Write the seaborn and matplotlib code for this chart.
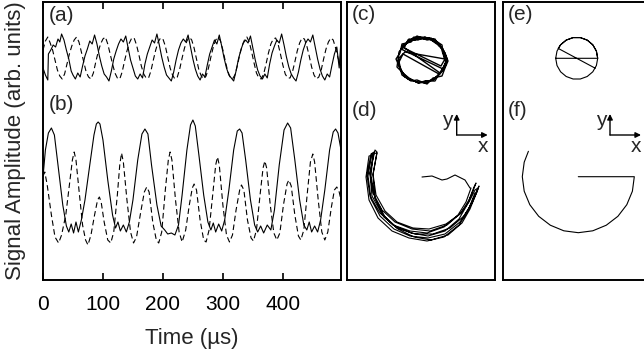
import numpy as np
import pandas as pd
import matplotlib
matplotlib.use("Agg")
import matplotlib.pyplot as plt
import seaborn as sns

sns.set_style("white")
plt.rcParams['font.family'] = ['Liberation Sans', 'DejaVu Sans']

# ---------------- data ----------------
# (b) solid signal: time (us), amplitude (arb.)
b_solid_t = [0, 4, 9, 14, 19, 26, 33, 39, 43, 47, 51, 55, 59, 64, 70, 78, 85, 89, 92, 95, 100, 108, 116, 121,
             125, 129, 134, 139, 144, 150, 158, 165, 170, 175, 181, 190, 197, 203, 208, 214, 220, 226, 232, 240,
             246, 250, 254, 260, 268, 275, 280, 284, 288, 293, 298, 303, 310, 318, 324, 328, 332, 338, 346, 353,
             358, 363, 368, 374, 380, 386, 394, 402, 408, 413, 420, 428, 435, 440, 444, 448, 453, 458, 463, 470,
             478, 484, 488, 492, 497]
b_solid_v = [103, 130, 147, 152, 145, 110, 75, 54, 48, 56, 47, 58, 48, 60, 80, 115, 145, 156, 158, 156, 140, 100,
             65, 52, 58, 49, 55, 48, 58, 80, 120, 146, 151, 146, 115, 75, 54, 50, 46, 47, 45, 55, 85, 130, 155, 160,
             154, 125, 85, 58, 50, 57, 48, 56, 49, 60, 90, 130, 149, 151, 147, 120, 80, 55, 48, 54, 47, 55, 50, 70,
             115, 150, 157, 152, 120, 80, 55, 50, 58, 48, 54, 48, 60, 90, 130, 148, 151, 147, 130]
# (b) dashed signal
b_dash_t = [0, 3, 7, 14, 20, 26, 31, 38, 44, 49, 52, 55, 60, 66, 71, 75, 80, 86, 91, 94, 97, 102, 108, 113, 118,
            124, 128, 131, 134, 140, 146, 151, 156, 163, 169, 173, 177, 183, 189, 193, 198, 204, 209, 212, 215, 221,
            227, 232, 238, 244, 249, 252, 256, 262, 268, 272, 277, 283, 288, 291, 294, 300, 306, 311, 316, 322, 328,
            331, 335, 341, 347, 351, 356, 362, 367, 370, 373, 379, 385, 390, 395, 401, 407, 410, 414, 420, 426, 430,
            435, 441, 446, 450, 453, 459, 465, 470, 475, 481, 486, 490, 494, 497]
b_dash_v = [104, 108, 95, 65, 43, 37, 45, 65, 95, 120, 128, 120, 90, 55, 40, 35, 45, 65, 80, 83, 78, 58, 40, 37, 48,
            85, 115, 127, 118, 80, 48, 37, 43, 68, 88, 93, 88, 58, 40, 37, 48, 90, 120, 128, 120, 80, 48, 38, 50, 75,
            92, 96, 90, 60, 40, 38, 50, 85, 115, 123, 115, 75, 45, 38, 45, 70, 90, 95, 90, 60, 42, 39, 50, 85, 112,
            119, 112, 75, 47, 40, 47, 75, 96, 100, 94, 65, 44, 40, 50, 88, 118, 126, 118, 80, 48, 40, 48, 73, 90, 93,
            88, 80]

# (a) solid signal
a_solid_t = [0, 4, 8, 9, 13, 17, 21, 25, 28, 31, 35, 39, 43, 47, 50, 54, 58, 62, 66, 70, 74, 78, 82, 86, 90, 94,
             98, 102, 106, 110, 114, 118, 122, 126, 130, 134, 138, 142, 146, 150, 154, 158, 162, 166, 170, 174,
             178, 182, 186, 190, 194, 198, 202, 206, 210, 214, 218, 222, 226, 230, 234, 238, 242, 246, 250, 254,
             258, 262, 266, 270, 274, 278, 282, 286, 290, 294, 298, 302, 306, 310, 314, 318, 322, 326, 330, 334,
             338, 342, 346, 350, 354, 358, 362, 366, 370, 374, 378, 382, 386, 390, 394, 398, 402, 406, 410, 414,
             418, 422, 426, 430, 434, 438, 442, 446, 450, 454, 458, 462, 466, 470, 474, 478, 482, 486, 490, 494, 497]
a_solid_v = [212, 205, 200, 226, 230, 235, 233, 241, 238, 246, 240, 230, 221, 209, 205, 201, 207, 203, 214, 224,
             231, 239, 236, 245, 236, 224, 214, 206, 203, 199, 209, 221, 229, 236, 241, 238, 244, 232, 220, 212,
             204, 201, 206, 202, 216, 226, 233, 240, 237, 246, 235, 223, 213, 205, 202, 199, 208, 220, 230, 237,
             241, 238, 245, 233, 221, 211, 204, 200, 206, 203, 215, 226, 233, 240, 236, 245, 234, 222, 212, 205,
             202, 199, 209, 221, 230, 237, 240, 237, 244, 232, 220, 210, 204, 201, 206, 202, 216, 227, 234, 240,
             237, 246, 235, 223, 213, 206, 202, 199, 208, 220, 230, 237, 241, 238, 245, 233, 221, 211, 204, 200,
             206, 203, 215, 226, 233, 212, 240]
# (a) dashed signal
a_dash_t = [0, 4, 8, 12, 16, 20, 24, 28, 32, 36, 40, 44, 48, 52, 56, 60, 64, 68, 72, 76, 80, 84, 88, 92, 96, 100,
            104, 108, 112, 116, 120, 124, 128, 132, 136, 140, 144, 148, 152, 156, 160, 164, 168, 172, 176, 180,
            184, 188, 192, 196, 200, 204, 208, 212, 216, 220, 224, 228, 232, 236, 240, 244, 248, 252, 256, 260,
            264, 268, 272, 276, 280, 284, 288, 292, 296, 300, 304, 308, 312, 316, 320, 324, 328, 332, 336, 340,
            344, 348, 352, 356, 360, 364, 368, 372, 376, 380, 384, 388, 392, 396, 400, 404, 408, 412, 416, 420,
            424, 428, 432, 436, 440, 444, 448, 452, 456, 460, 464, 468, 472, 476, 480, 484, 488, 492, 497]
a_dash_v = [230, 239, 243, 237, 230, 220, 210, 204, 201, 206, 216, 226, 234, 240, 243, 238, 228, 218, 208, 203,
            201, 207, 218, 228, 236, 241, 243, 236, 226, 216, 207, 202, 201, 208, 219, 229, 237, 242, 242, 235,
            225, 214, 206, 202, 202, 209, 220, 230, 238, 242, 241, 234, 223, 212, 205, 201, 203, 211, 222, 232,
            239, 243, 240, 232, 221, 210, 204, 201, 204, 212, 223, 233, 240, 243, 239, 230, 219, 209, 203, 201,
            205, 214, 225, 234, 240, 243, 238, 228, 217, 207, 202, 201, 206, 216, 227, 236, 241, 242, 236, 226,
            215, 206, 202, 202, 208, 218, 229, 237, 242, 241, 234, 224, 213, 205, 201, 203, 210, 221, 231, 238,
            242, 240, 232, 222, 214]

# (c) measured x-y trajectory (noisy circle with chords)
c_x = [95, 98, 100, 96, 95, 86, 80, 70, 64, 55, 53, 49, 53, 55, 64, 70, 80, 86, 95, 98, 101, 98, 92, 88, 78, 71,
       62, 57, 54, 96, 99, 97, 96, 90, 84, 75, 67, 60, 55, 93, 97, 100, 97, 92, 88, 79, 71, 62, 58, 52, 51, 50,
       57, 62, 71, 78, 88, 92, 56, 52, 54, 58, 65, 72, 80, 86, 91, 96, 99, 96, 94, 87, 82, 74, 68, 61, 57, 94,
       98, 58, 52, 52, 56, 61, 70, 79, 87, 93, 98]
c_y = [209, 213, 220, 228, 235, 241, 240, 244, 238, 236, 227, 221, 212, 205, 199, 200, 196, 202, 204, 212, 219,
       227, 236, 238, 243, 240, 241, 233, 231, 211, 217, 224, 231, 237, 242, 241, 243, 237, 234, 207, 214, 221,
       229, 234, 241, 241, 243, 238, 236, 228, 220, 213, 206, 202, 197, 199, 199, 206, 226, 218, 210, 203, 200,
       197, 199, 200, 205, 211, 218, 226, 233, 238, 242, 243, 240, 240, 232, 214, 221, 228, 222, 214, 207, 201,
       198, 197, 201, 206, 213]

# (d) measured x-y trajectory (arc, repeated passes)
d_x = [75, 85, 95, 100, 108, 118, 123,
       124, 119, 111, 97, 80, 63, 46, 33, 23, 20, 24,
       27, 23, 25, 35, 48, 64, 81, 98, 112, 120, 126, 129,
       127, 122, 114, 100, 83, 65, 48, 35, 26, 23, 28,
       30, 26, 28, 38, 51, 67, 84, 101, 115, 123, 129, 132,
       130, 125, 117, 103, 86, 68, 50, 37, 28, 24, 26,
       22, 19, 22, 31, 45, 62, 80, 97, 112, 121, 127, 131,
       128, 122, 113, 99, 82, 66, 50, 38, 29, 26, 30,
       25, 21, 24, 33, 47, 63, 81, 98, 113, 122, 128]
d_y = [103, 104, 100, 101, 105, 100, 92,
       92, 78, 65, 53, 47, 49, 55, 67, 84, 105, 126,
       128, 106, 84, 66, 54, 47, 44, 49, 61, 75, 89, 97,
       93, 80, 67, 55, 49, 51, 58, 70, 87, 107, 130,
       128, 105, 82, 63, 51, 43, 40, 45, 57, 71, 86, 94,
       88, 77, 64, 52, 46, 46, 52, 63, 82, 104, 125,
       124, 103, 80, 62, 49, 42, 39, 43, 55, 69, 83, 92,
       90, 78, 66, 56, 51, 52, 58, 69, 85, 106, 127,
       126, 104, 81, 64, 51, 44, 42, 46, 58, 72, 87]

# (e) model x-y trajectory (circle)
e_x = [52.7, 94.7, 93.4, 89.8, 84.2, 77.3, 70.1, 63.2, 57.6, 54.0, 52.7, 54.0, 57.6, 63.2, 70.1, 77.3, 84.2, 89.8,
       93.4, 94.7, 93.4, 89.8, 84.2, 77.3, 70.1, 63.2, 57.6, 55.2, 92.2]
e_y = [221.7, 221.7, 228.9, 235.2, 239.9, 242.4, 242.4, 239.9, 235.2, 228.9, 221.7, 214.5, 208.2, 203.5, 201.0,
       201.0, 203.5, 208.2, 214.5, 221.7, 228.9, 235.2, 239.9, 242.4, 242.4, 239.9, 235.2, 231.6, 211.8]

# (f) model x-y trajectory (arc)
f_x = [75.3, 131.3, 129.4, 123.8, 114.9, 103.3, 89.8, 75.3, 60.8, 47.3, 35.7, 26.8, 21.2, 19.3, 21.2, 25.4]
f_y = [103.3, 103.3, 88.8, 75.3, 63.7, 54.8, 49.2, 47.3, 49.2, 54.8, 63.7, 75.3, 88.8, 103.3, 117.8, 128.7]

time_ticks = [0, 100, 200, 300, 400]

# ---------------- figure ----------------
W, H = 644, 354
fig = plt.figure(figsize=(W / 100, H / 100), dpi=100)
top_px, bot_px = 2, 280
hfrac = (bot_px - top_px) / H
yb = 1 - bot_px / H
ax1 = fig.add_axes([43 / W, yb, 298 / W, hfrac])
ax2 = fig.add_axes([347 / W, yb, 148 / W, hfrac])
ax3 = fig.add_axes([503 / W, yb, 148 / W, hfrac])

lw = 0.8
dash = (0, (5, 3))
sns.lineplot(x=a_solid_t, y=a_solid_v, ax=ax1, color='black', lw=lw, sort=False, estimator=None)
sns.lineplot(x=a_dash_t, y=a_dash_v, ax=ax1, color='black', lw=lw, linestyle=dash, sort=False, estimator=None)
sns.lineplot(x=b_solid_t, y=b_solid_v, ax=ax1, color='black', lw=lw, sort=False, estimator=None)
sns.lineplot(x=b_dash_t, y=b_dash_v, ax=ax1, color='black', lw=lw, linestyle=dash, sort=False, estimator=None)
ax1.set_xlim(0, 497)
ax1.set_ylim(0, 278)
ax1.set_xticks(time_ticks)
ax1.set_xticklabels([str(t) for t in time_ticks])
ax1.set_yticks([])
ax1.tick_params(axis='x', direction='in', top=True, bottom=True, length=5, width=1.2,
                labelsize=15, pad=11, colors='black')
ax1.set_xlabel('Time (µs)', fontsize=16, labelpad=10)
ax1.set_ylabel('Signal Amplitude (arb. units)', fontsize=16)
ax1.yaxis.set_label_coords(-0.058, 0.5)
ax1.text(0.02, 0.985, '(a)', transform=ax1.transAxes, ha='left', va='top', fontsize=15)
ax1.text(0.02, 0.665, '(b)', transform=ax1.transAxes, ha='left', va='top', fontsize=15)

sns.lineplot(x=c_x, y=c_y, ax=ax2, color='black', lw=1.0, sort=False, estimator=None)
sns.lineplot(x=d_x, y=d_y, ax=ax2, color='black', lw=0.8, sort=False, estimator=None)
sns.lineplot(x=e_x, y=e_y, ax=ax3, color='black', lw=0.8, sort=False, estimator=None)
sns.lineplot(x=f_x, y=f_y, ax=ax3, color='black', lw=0.8, sort=False, estimator=None)

for ax, lab1, lab2, ox in [(ax2, '(c)', '(d)', 109.7), (ax3, '(e)', '(f)', 107)]:
    ax.set_xlim(0, 148)
    ax.set_ylim(0, 278)
    ax.set_xticks([])
    ax.set_yticks([])
    ax.set_ylabel('')
    ax.text(0.03, 0.99, lab1, transform=ax.transAxes, ha='left', va='top', fontsize=15)
    ax.text(0.03, 0.645, lab2, transform=ax.transAxes, ha='left', va='top', fontsize=15)
    ap = dict(arrowstyle='-|>', color='black', lw=1.0, mutation_scale=8, shrinkA=0, shrinkB=0)
    ax.annotate('', xy=(ox, 166), xytext=(ox, 145), arrowprops=ap)
    ax.annotate('', xy=(ox + 31, 145), xytext=(ox, 145), arrowprops=ap)
    ax.text(ox - 9, 160, 'y', ha='center', va='center', fontsize=15)
    ax.text(ox + 26, 133, 'x', ha='center', va='center', fontsize=15)

for ax in (ax1, ax2, ax3):
    for s in ax.spines.values():
        s.set_visible(True)
        s.set_color('black')
        s.set_linewidth(1.4)

fig.savefig('out.png', dpi=100)
